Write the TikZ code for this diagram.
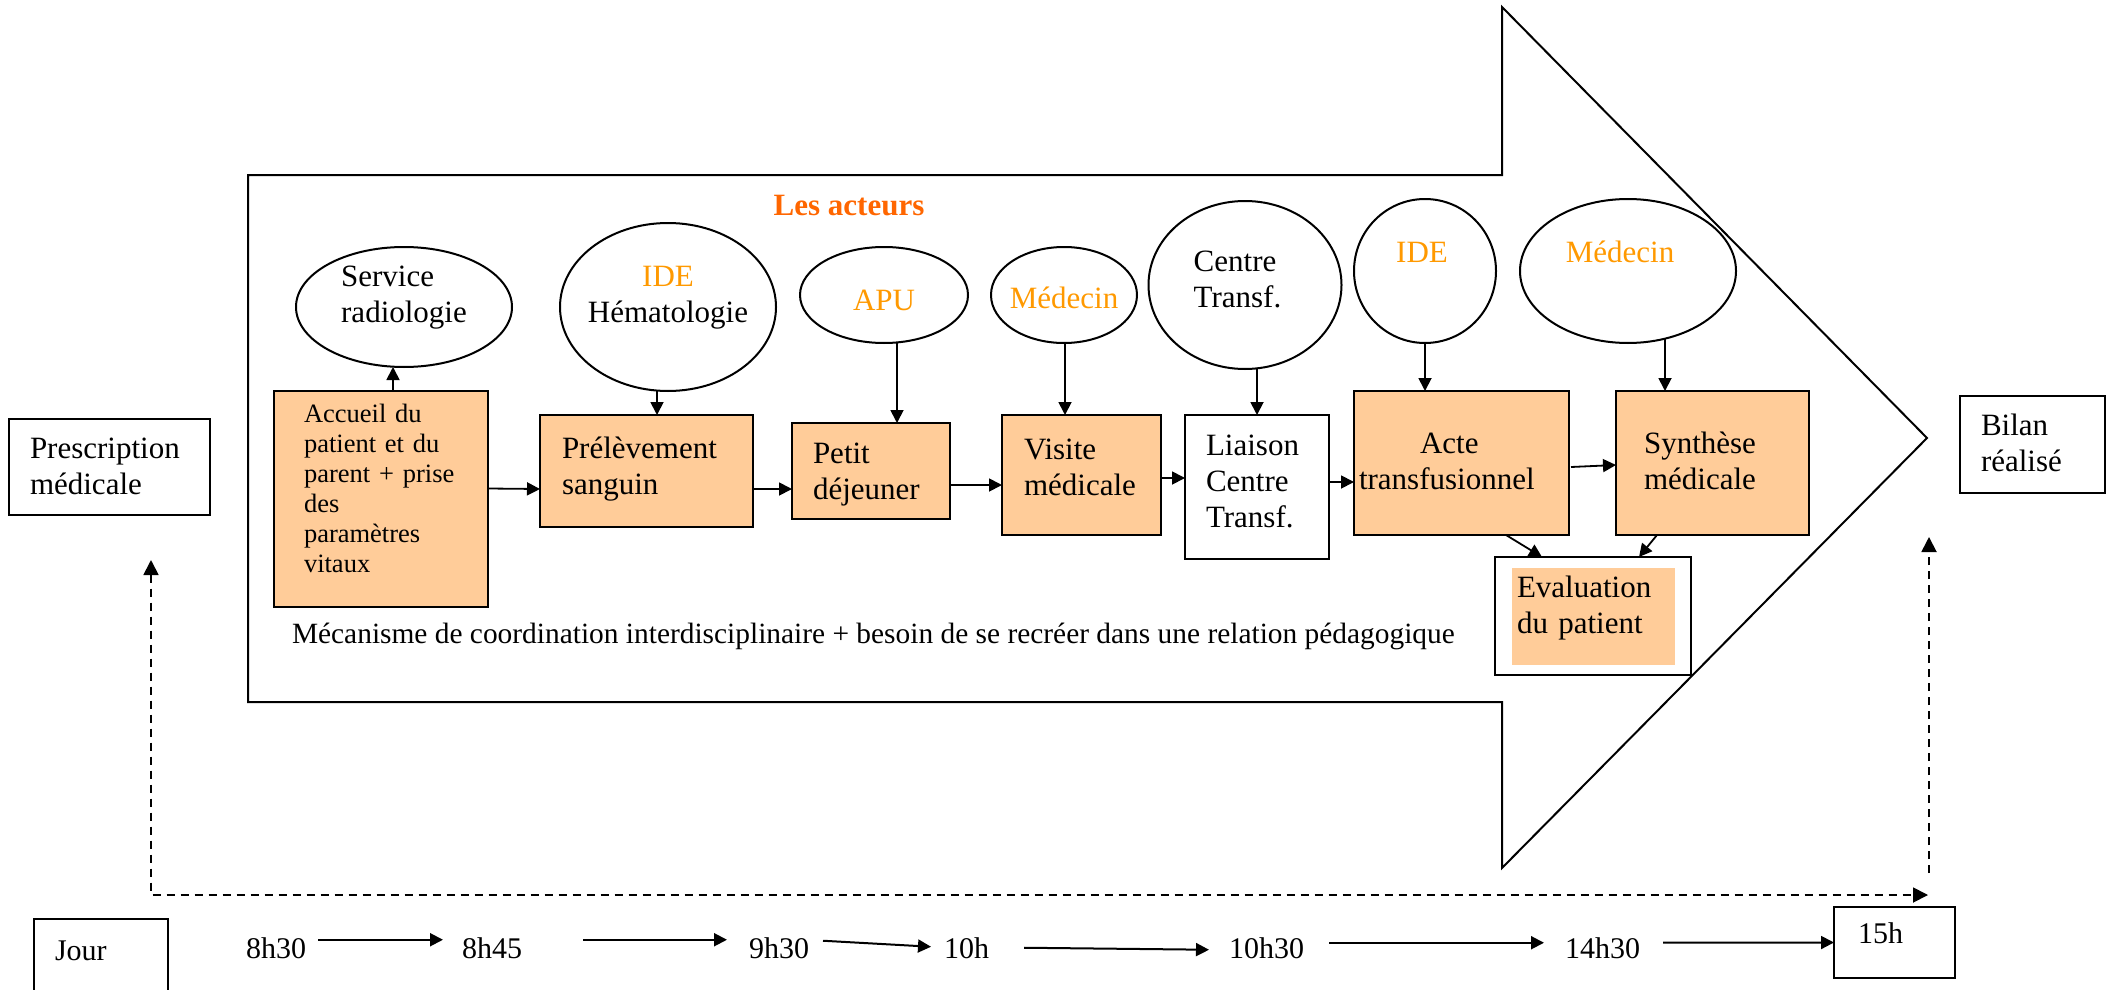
\documentclass[tikz,border=0pt]{standalone}
\usepackage{fontspec}
\setmainfont{Liberation Serif}
\usetikzlibrary{shapes.geometric,arrows.meta}

\definecolor{peach}{HTML}{FFCC99}
\definecolor{actorc}{HTML}{FF9900}
\definecolor{titlec}{HTML}{FF6600}

\newcommand\fbig{\fontsize{31}{36}\selectfont}
\newcommand\fsmall{\fontsize{26.5}{30}\selectfont}
\newcommand\ftime{\fontsize{30}{34}\selectfont}
\newcommand\fmeca{\fontsize{29.4}{34}\selectfont}

\begin{document}
\begin{tikzpicture}[x=1pt, y=-1pt,
  every node/.style={inner sep=0pt, outer sep=0pt},
  stepbox/.style={draw, line width=2pt, fill=peach, anchor=north west, align=left, font=\fbig},
  plainbox/.style={draw, line width=2pt, fill=white, anchor=north west, align=left, font=\fbig},
  actor/.style={draw, ellipse, line width=2pt},
  lbl/.style={font=\fbig, align=left},
  conn/.style={line width=1.8pt, -{Triangle[length=13pt,width=13pt]}},
  tconn/.style={line width=2pt, -{Triangle[length=13pt,width=13pt]}},
  dashconn/.style={line width=1.8pt, dash pattern=on 8pt off 6pt},
  timelbl/.style={font=\ftime, anchor=base west}]
\useasboundingbox (0,0) rectangle (2110,990);

% large process arrow
\draw[line width=2pt, line join=miter]
  (248,175) -- (1502,175) -- (1502,7) -- (1927,438) -- (1502,868) -- (1502,702) -- (248,702) -- cycle;

\node[font=\fbig\bfseries, text=titlec, anchor=base] (acteurs) at (849,215) {Les acteurs};

% actors
\node[actor, minimum width=216pt, minimum height=120pt,
  label={[lbl, yshift=9.5pt]center:{Service\\radiologie}}] (radio) at (404,307) {};
\node[actor, minimum width=216pt, minimum height=168pt,
  label={[lbl, align=center, yshift=9.5pt]center:{\textcolor{actorc}{IDE}\\Hématologie}}] (hemato) at (668,307) {};
\node[actor, minimum width=168pt, minimum height=96pt,
  label={[lbl, text=actorc, yshift=-5pt]center:APU}] (apu) at (884,295) {};
\node[actor, minimum width=146pt, minimum height=96pt,
  label={[lbl, text=actorc, yshift=-2.5pt]center:Médecin}] (med1) at (1064,295) {};
\node[actor, minimum width=193pt, minimum height=168pt,
  label={[lbl, xshift=-7.5pt, yshift=6pt]center:{Centre\\Transf.}}] (ctsa) at (1245,285) {};
\node[actor, minimum width=142pt, minimum height=144pt,
  label={[lbl, text=actorc, xshift=-3pt, yshift=19pt]center:IDE}] (ide) at (1425,271) {};
\node[actor, minimum width=216pt, minimum height=144pt,
  label={[lbl, text=actorc, xshift=-8pt, yshift=19.5pt]center:Médecin}] (med2) at (1628,271) {};

% process steps
\node[stepbox, font=\fsmall, minimum width=214pt, minimum height=216pt, inner xsep=30pt, text width=154pt,
  text height=20pt, text depth=173pt]
  (accueil) at (274,391) {Accueil du\\patient et du\\parent + prise\\des\\paramètres\\vitaux};
\node[stepbox, minimum width=213pt, minimum height=112pt, inner xsep=22pt, text width=169pt,
  text height=20pt, text depth=46pt]
  (prelev) at (540,415) {Prélèvement\\sanguin};
\node[stepbox, minimum width=158pt, minimum height=96pt, inner xsep=21pt, text width=116pt,
  text height=20pt, text depth=36pt]
  (dej) at (792,423) {Petit\\déjeuner};
\node[stepbox, minimum width=159pt, minimum height=120pt, inner xsep=22pt, text width=115pt,
  text height=20pt, text depth=52pt]
  (visite) at (1002,415) {Visite\\médicale};
\node[plainbox, minimum width=144pt, minimum height=144pt, inner xsep=21pt, text width=102pt,
  text height=20pt, text depth=84pt]
  (liaison) at (1185,415) {Liaison\\Centre\\Transf.};
\node[stepbox, minimum width=215pt, minimum height=144pt, inner xsep=5pt, text width=205pt,
  text height=20pt, text depth=40pt]
  (acte) at (1354,391) {\hspace*{61pt}Acte\\transfusionnel};
\node[stepbox, minimum width=193pt, minimum height=144pt, inner xsep=28pt, text width=137pt,
  text height=20pt, text depth=40pt]
  (synth) at (1616,391) {Synthèse\\médicale};
\node[plainbox, minimum width=196pt, minimum height=118pt] (evalbox) at (1495,557) {};
\node[fill=peach, anchor=north west, align=left, font=\fbig, minimum width=163pt, minimum height=97pt,
  inner xsep=5pt, text width=153pt, text depth=60pt] (evalin) at (1512,568) {Evaluation\\du patient};

\node[font=\fmeca, anchor=base west] (meca) at (292,643)
  {Mécanisme de coordination interdisciplinaire + besoin de se recréer dans une relation pédagogique};

% outer boxes
\node[plainbox, minimum width=201pt, minimum height=96pt, inner xsep=21pt, text width=159pt,
  text height=20pt, text depth=38pt]
  (presc) at (9,419) {Prescription\\médicale};
\node[plainbox, minimum width=145pt, minimum height=97pt, inner xsep=21pt, text width=103pt,
  text height=20pt, text depth=39pt]
  (bilan) at (1960,396) {Bilan\\réalisé};

% actor links
\draw[conn] ([xshift=12pt]accueil.north) -- ([xshift=-11pt]radio.south);
\draw[conn] ([xshift=-11pt]hemato.south) -- ([xshift=10.5pt]prelev.north);
\draw[conn] ([xshift=13pt]apu.south) -- ([xshift=26pt]dej.north);
\draw[conn] ([xshift=1pt]med1.south) -- ([xshift=-16.5pt]visite.north);
\draw[conn] ([xshift=12pt]ctsa.south) -- (liaison.north);
\draw[conn] (ide.south) -- ([xshift=-36.5pt]acte.north);
\draw[conn] ([xshift=37pt,yshift=4pt]med2.south) -- ([xshift=-47.5pt]synth.north);

% process flow
\draw[conn] ([yshift=10.5pt]accueil.east) -- ([yshift=-18pt]prelev.west);
\draw[conn] ([yshift=-18pt]prelev.east) -- ([yshift=-18pt]dej.west);
\draw[conn] ([yshift=-14pt]dej.east) -- ([yshift=-10pt]visite.west);
\draw[conn] ([yshift=-3pt]visite.east) -- ([yshift=9pt]liaison.west);
\draw[conn] ([yshift=5pt]liaison.east) -- ([yshift=-19pt]acte.west);
\draw[conn] ([xshift=2pt,yshift=-4pt]acte.east) -- ([yshift=-2pt]synth.west);
\draw[conn] ([xshift=44.5pt]acte.south) -- ([xshift=-51pt]evalbox.north);
\draw[conn] ([xshift=-55.5pt]synth.south) -- ([xshift=46pt]evalbox.north);

% time line
\coordinate (dtop) at (151,560);
\coordinate (dcorner) at (151,895);
\coordinate (dend) at (1928,895);
\draw[dashconn, {Triangle[length=15pt,width=15pt]}-{Triangle[length=15pt,width=15pt]}]
  (dtop) -- (dcorner) -- (dend);
\coordinate (rbot) at (1929,873);
\coordinate (rtop) at (1929,537);
\draw[dashconn, -{Triangle[length=15pt,width=15pt]}] (rbot) -- (rtop);

\node[plainbox, font=\ftime, minimum width=134pt, minimum height=82pt, inner xsep=21pt, text width=92pt,
  text height=15pt, text depth=15pt] (jour) at (34,919) {Jour};
\node[timelbl] (t1) at (246,958) {8h30};
\node[timelbl] (t2) at (462,958) {8h45};
\node[timelbl] (t3) at (749,958) {9h30};
\node[timelbl] (t4) at (944,958) {10h};
\node[timelbl] (t5) at (1229,958) {10h30};
\node[timelbl] (t6) at (1565,958) {14h30};
\node[plainbox, font=\ftime, minimum width=121pt, minimum height=71pt, inner xsep=24pt, text width=73pt,
  text height=20pt, text depth=19pt] (h15) at (1834,907) {15h};

\draw[tconn] ([xshift=12pt,yshift=8pt]t1.east) -- ([xshift=-19pt,yshift=8pt]t2.west);
\draw[tconn] ([xshift=61pt,yshift=8pt]t2.east) -- ([xshift=-22pt,yshift=8pt]t3.west);
\draw[tconn] ([xshift=14pt,yshift=7pt]t3.east) -- ([xshift=-13pt,yshift=1pt]t4.west);
\draw[tconn] ([xshift=35pt]t4.east) -- ([xshift=-20pt,yshift=-2pt]t5.west);
\draw[tconn] ([xshift=25pt,yshift=5pt]t5.east) -- ([xshift=-21pt,yshift=5pt]t6.west);
\draw[tconn] ([xshift=23pt,yshift=5pt]t6.east) -- ([yshift=0pt]h15.west);
\end{tikzpicture}
\end{document}
